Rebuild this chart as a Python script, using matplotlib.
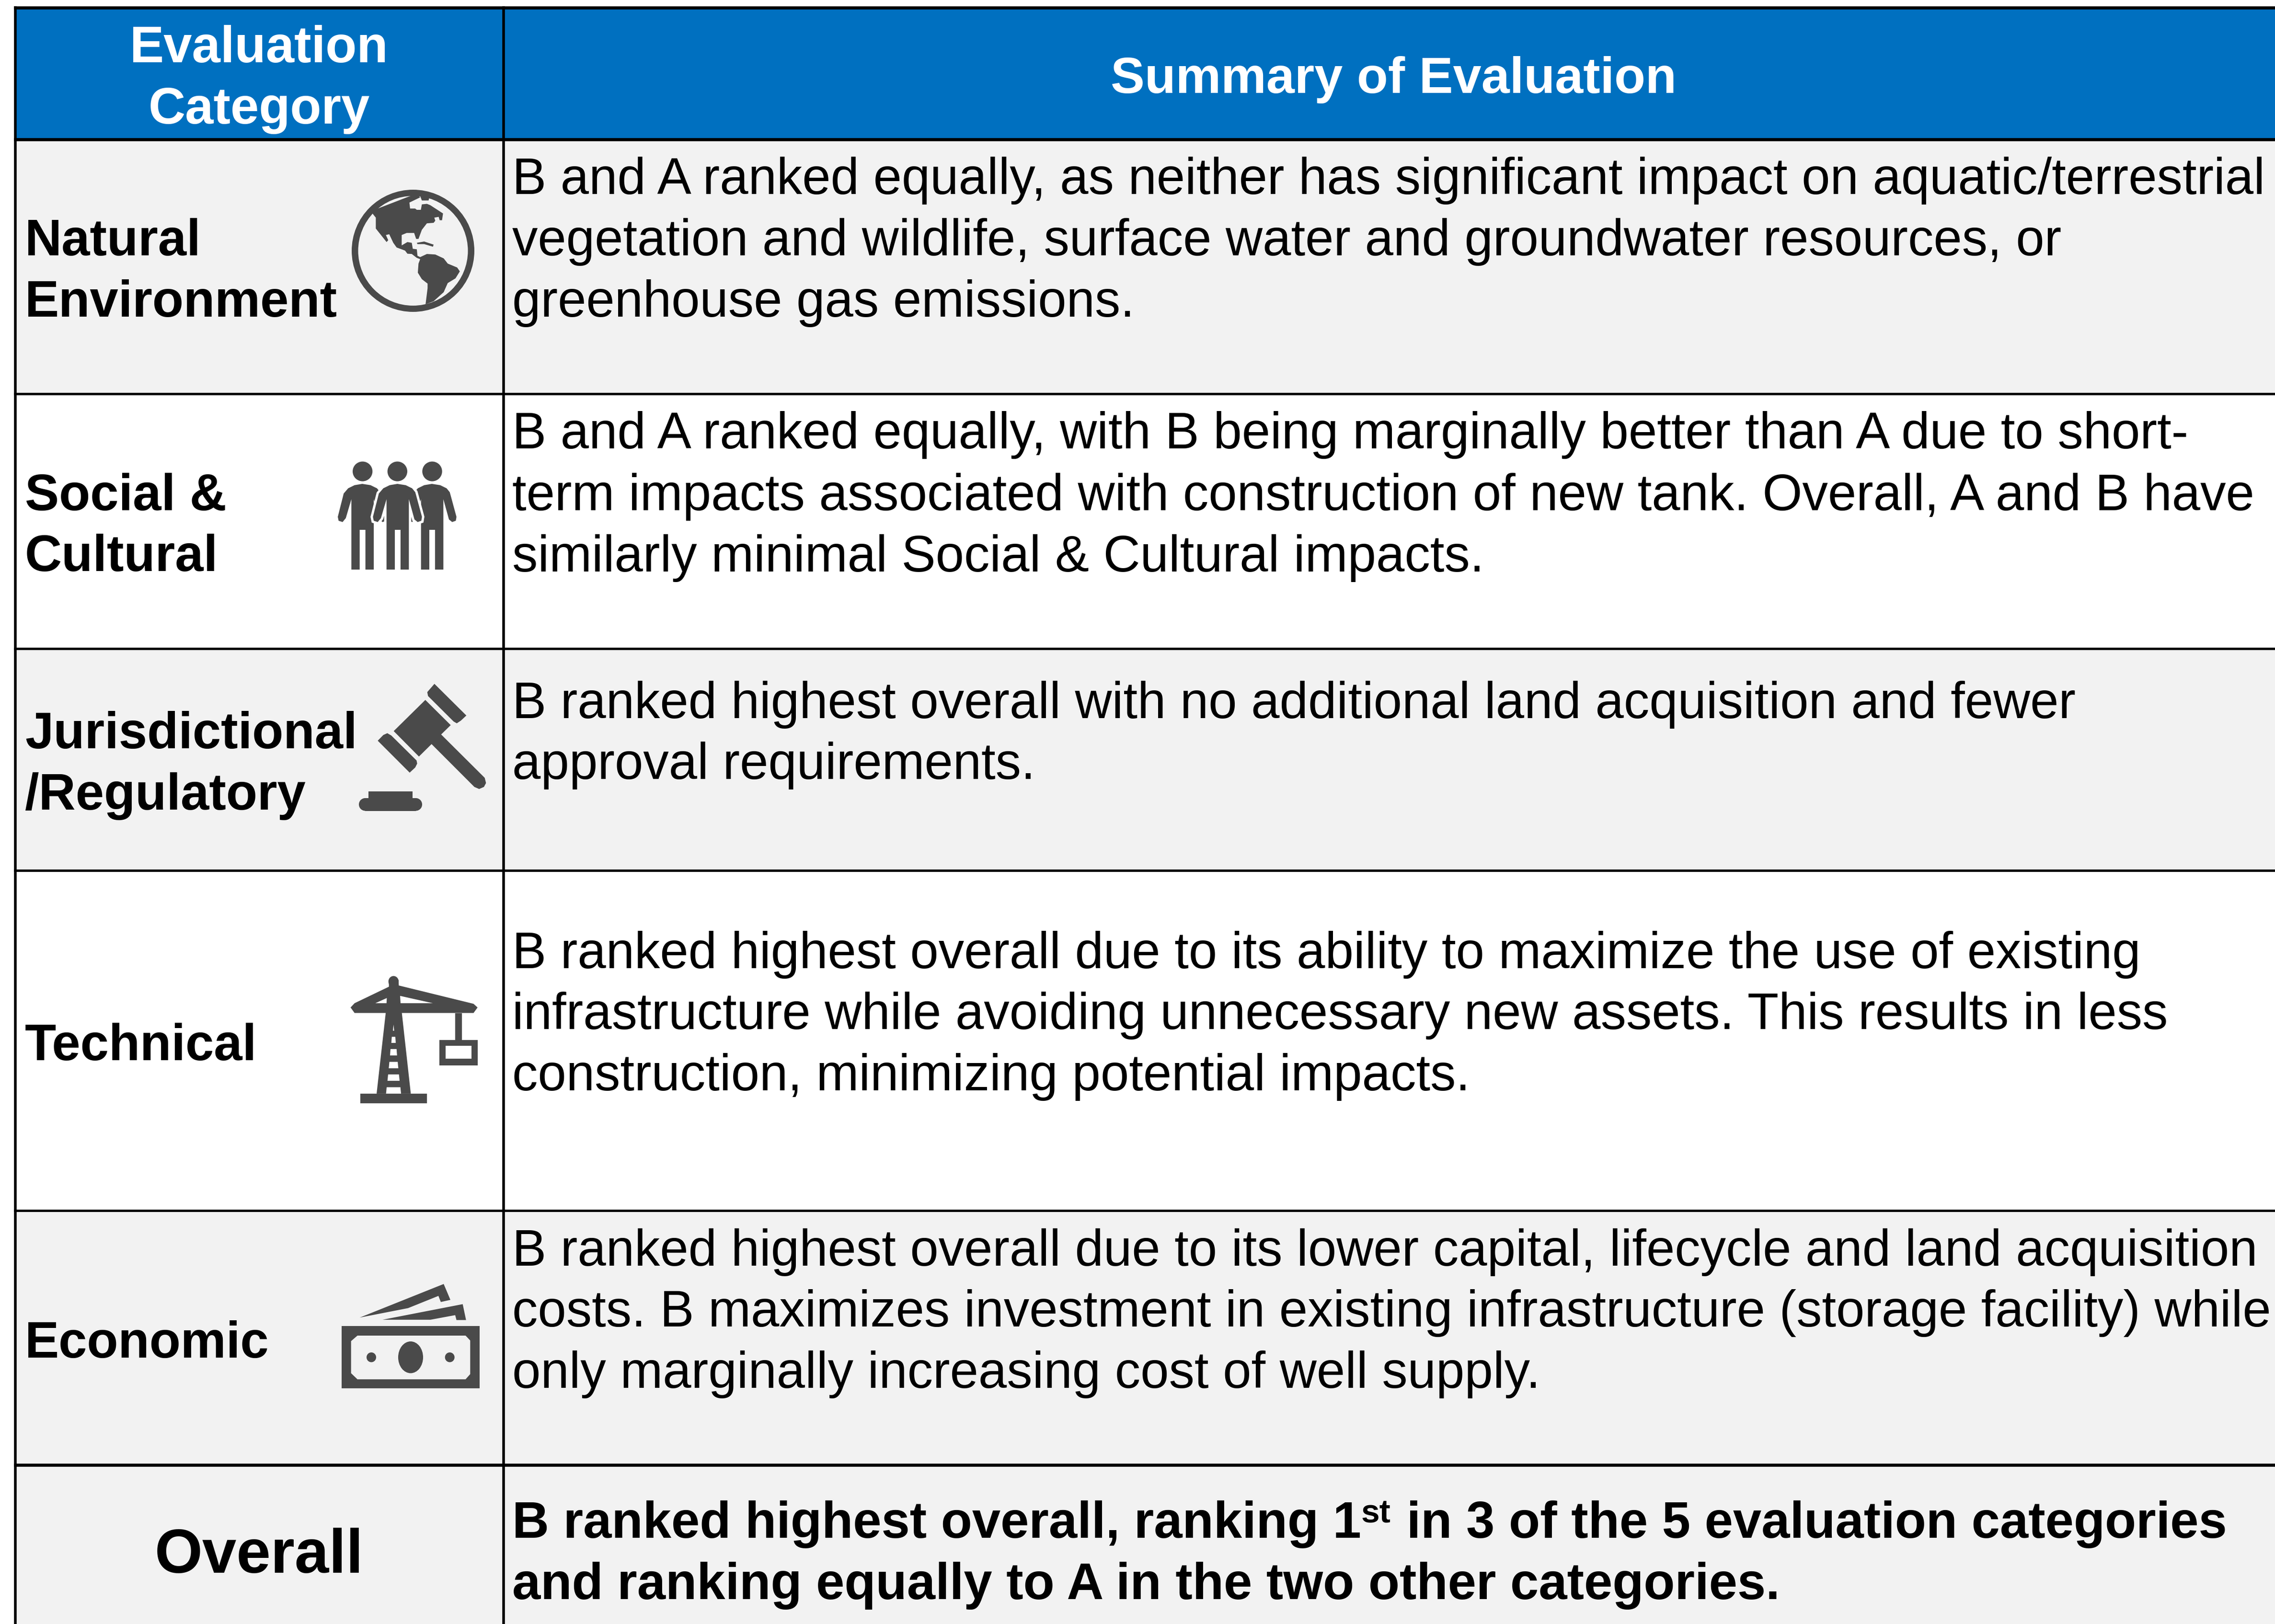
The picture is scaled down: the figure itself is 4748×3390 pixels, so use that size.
import matplotlib
matplotlib.use("Agg")
import matplotlib.pyplot as plt
from matplotlib.patches import Polygon, Ellipse, Rectangle

plt.rcParams["font.family"] = ["Liberation Sans", "DejaVu Sans"]

W, H = 4748, 3390
BLUE = "#0070C0"
GREY = "#F2F2F2"
ICON = "#4A4A4A"
PX = 72 / 100  # points per pixel at dpi=100
FS = 106.8 * PX
FS_BIG = 128.5 * PX

# --- table content -----------------------------------------------------------
headers = ["Evaluation\nCategory", "Summary of Evaluation"]
categories = [["Natural", "Environment"], ["Social &", "Cultural"],
              ["Jurisdictional", "/Regulatory"], ["Technical"], ["Economic"]]
summaries = [
    ["B and A ranked equally, as neither has significant impact on aquatic/terrestrial",
     "vegetation and wildlife, surface water and groundwater resources, or",
     "greenhouse gas emissions."],
    ["B and A ranked equally, with B being marginally better than A due to short-",
     "term impacts associated with construction of new tank. Overall, A and B have",
     "similarly minimal Social & Cultural impacts."],
    ["B ranked highest overall with no additional land acquisition and fewer",
     "approval requirements."],
    ["B ranked highest overall due to its ability to maximize the use of existing",
     "infrastructure while avoiding unnecessary new assets. This results in less",
     "construction, minimizing potential impacts."],
    ["B ranked highest overall due to its lower capital, lifecycle and land acquisition",
     "costs. B maximizes investment in existing infrastructure (storage facility) while",
     "only marginally increasing cost of well supply."],
]
overall_label = "Overall"
overall_parts = ["B ranked highest overall, ranking 1", "st", " in 3 of the 5 evaluation categories"]
overall_line2 = "and ranking equally to A in the two other categories."

# layout, in reference pixels
row_edges = [16, 291, 822, 1354, 1817, 2527, 3058, H]
row_fill = [BLUE, GREY, "white", GREY, "white", GREY, GREY]
col_left, col_mid = 32, 1051
label_x, body_x = 52, 1069
label_base = [[533, 661], [1065, 1192], [1562, 1690], [2213], [2834]]
body_base = [[405, 533, 661], [936, 1065, 1193], [1499, 1626],
             [2021, 2148, 2276], [2642, 2769, 2897]]

fig = plt.figure(figsize=(W / 100, H / 100), dpi=100)
ax = fig.add_axes([0, 0, 1, 1])
ax.set_xlim(0, W)
ax.set_ylim(H, 0)
ax.axis("off")

# --- cells and grid ----------------------------------------------------------
for i, c in enumerate(row_fill):
    ax.add_patch(Rectangle((col_left, row_edges[i]), W - col_left, row_edges[i + 1] - row_edges[i],
                           fc=c, ec="none", zorder=1))
for i, y in enumerate(row_edges[:-1]):
    lw = 6.5 if i in (0, 1, 6) else 5
    ax.plot([col_left - 3, W], [y, y], color="black", lw=lw * PX, solid_capstyle="butt", zorder=3)
for x in (col_left, col_mid):
    ax.plot([x, x], [row_edges[0] - 3, H], color="black", lw=5.5 * PX, solid_capstyle="butt", zorder=3)

# --- text --------------------------------------------------------------------
ax.text(541, 130, "Evaluation", color="white", fontsize=FS, fontweight="bold", ha="center", va="baseline", zorder=4)
ax.text(541, 258, "Category", color="white", fontsize=FS, fontweight="bold", ha="center", va="baseline", zorder=4)
ax.text(2908, 194, headers[1], color="white", fontsize=FS * 0.995, fontweight="bold", ha="center", va="baseline", zorder=4)

for lines, bases in zip(categories, label_base):
    for s, y in zip(lines, bases):
        ax.text(label_x, y, s, fontsize=FS, fontweight="bold", va="baseline", zorder=4)
for lines, bases in zip(summaries, body_base):
    for s, y in zip(lines, bases):
        ax.text(body_x, y, s, fontsize=FS, va="baseline", zorder=4)

ax.text(541, 3283, overall_label, fontsize=FS_BIG, fontweight="bold", ha="center", va="baseline", zorder=4)
rend = fig.canvas.get_renderer()
t0 = ax.text(body_x, 3210, overall_parts[0], fontsize=FS * 0.998, fontweight="bold", va="baseline", zorder=4)
x1 = body_x + t0.get_window_extent(rend).width
t1 = ax.text(x1, 3178, overall_parts[1], fontsize=FS * 0.65, fontweight="bold", va="baseline", zorder=4)
x2 = x1 + t1.get_window_extent(rend).width + 3
ax.text(x2, 3210, overall_parts[2], fontsize=FS * 0.998, fontweight="bold", va="baseline", zorder=4)
ax.text(body_x, 3338, overall_line2, fontsize=FS * 0.998, fontweight="bold", va="baseline", zorder=4)


# --- icons (outlines traced in zoom-crop coordinates) --------------------------
def crop(x0, y0, sx, sy):
    return lambda pts: [(x0 + a / sx, y0 + b / sy) for a, b in pts]


def poly(tf, pts, fc=ICON, **kw):
    ax.add_patch(Polygon(tf(pts), closed=True, fc=fc, ec=kw.pop("ec", "none"), zorder=kw.pop("zorder", 5), **kw))


def ell(tf, cx, cy, rx, ry, fc=ICON, zorder=5):
    (x, y), (x2, y2) = tf([(cx, cy), (cx + rx, cy + ry)])
    ax.add_patch(Ellipse((x, y), 2 * (x2 - x), 2 * (y2 - y), fc=fc, ec="none", zorder=zorder))


# globe
z1 = crop(0, 0, 1568 / 1100, 1568 / 850)
ax.add_patch(Ellipse((862, 523.5), 256, 255, fc=ICON, ec="none", zorder=5))
ax.add_patch(Ellipse((862, 523.5), 229, 229, fc=GREY, ec="none", zorder=5))
land = [(1108, 822), (1118, 838), (1118, 880), (1150, 932), (1155, 925), (1148, 905), (1158, 902), (1170, 935),
        (1180, 953), (1205, 965), (1212, 977), (1225, 978), (1240, 993), (1250, 998), (1245, 1015), (1243, 1050),
        (1255, 1075), (1272, 1092), (1272, 1110), (1266, 1172), (1290, 1160), (1320, 1125), (1332, 1090),
        (1355, 1072), (1368, 1045), (1360, 1030), (1332, 1015), (1320, 995), (1295, 980), (1270, 978), (1250, 990),
        (1242, 985), (1240, 960), (1228, 958), (1225, 935), (1212, 932), (1195, 945), (1195, 905), (1210, 897),
        (1232, 897), (1238, 920), (1245, 920), (1255, 885), (1270, 860), (1290, 858), (1295, 850), (1292, 838),
        (1305, 835), (1308, 848), (1315, 848), (1318, 822), (1280, 790), (1270, 785), (1255, 787), (1252, 808),
        (1240, 808), (1235, 803), (1220, 803), (1218, 780), (1250, 760), (1240, 745), (1110, 810)]
poly(z1, land)
poly(z1, [(1250, 755), (1255, 772), (1275, 772), (1278, 755)])
poly(z1, [(1240, 935), (1262, 930), (1290, 942), (1288, 950), (1262, 940), (1242, 940)])

# people
z2 = crop(600, 900, 3, 1568 / 850)
body = [(620, 262), (585, 335), (565, 350), (540, 345), (535, 330), (572, 240), (600, 220), (640, 208), (688, 203),
        (740, 208), (780, 220), (800, 235), (842, 330), (838, 345), (815, 350), (795, 340), (760, 262), (760, 533),
        (708, 533), (708, 380), (672, 380), (672, 533), (620, 533)]
for dx in (-220, 216):
    poly(z2, [(a + dx, b) for a, b in body])
poly(z2, body, fc="white", ec="white", lw=10 * PX, zorder=6)
poly(z2, body, zorder=7)
for cx in (470, 688, 906):
    ell(z2, cx, 155, 62, 38)

# gavel
poly(z2, [(665, 1155), (863, 1035), (1022, 1132), (962, 1168), (1235, 1335), (1243, 1355), (1230, 1370), (1200, 1378),
          (1170, 1370), (902, 1205), (823, 1253)])
poly(z2, [(920, 973), (1120, 1095), (1085, 1115), (1060, 1125), (1040, 1118), (880, 1020), (875, 1005)])
poly(z2, [(565, 1192), (600, 1170), (625, 1163), (650, 1172), (808, 1268), (812, 1280), (800, 1295), (765, 1315)])
poly(z2, [(507, 1388), (784, 1388), (784, 1420), (507, 1420)])
bx0, by0 = z2([(447, 1413)])[0]
bx1, by1 = z2([(843, 1462)])[0]
rad = (by1 - by0) / 2
ax.add_patch(Rectangle((bx0 + rad, by0), bx1 - bx0 - 2 * rad, by1 - by0, fc=ICON, ec="none", zorder=5))
ax.add_patch(Ellipse((bx0 + rad, by0 + rad), 2 * rad, 2 * rad, fc=ICON, ec="none", zorder=5))
ax.add_patch(Ellipse((bx1 - rad, by0 + rad), 2 * rad, 2 * rad, fc=ICON, ec="none", zorder=5))

# crane
z3 = crop(650, 1950, 3, 1.568)
poly(z3, [(245, 240), (270, 226), (485, 172), (485, 150), (514, 138), (545, 150), (547, 168), (1015, 228), (1040, 240),
          (1015, 258), (566, 258), (622, 522), (408, 522), (465, 258), (270, 258)])
ell(z3, 514, 155, 32, 18)
poly(z3, [(306, 522), (723, 522), (723, 553), (306, 553)])
poly(z3, [(901, 258), (941, 258), (941, 346), (901, 346)])
poly(z3, [(801, 346), (1041, 346), (1041, 429), (801, 429)])
poly(z3, [(841, 366), (1001, 366), (1001, 408), (841, 408)], fc="white", zorder=6)
poly(z3, [(400, 226), (472, 209), (470, 226)], fc="white", zorder=6)
poly(z3, [(555, 202), (760, 226), (558, 226)], fc="white", zorder=6)
poly(z3, [(514, 296), (518, 316), (510, 316)], fc="white", zorder=6)
rung_y = [(336, 356), (376, 397), (418, 439), (459, 480), (501, 522)]
rung_hw = [(11, 14), (19, 22), (26, 30), (34, 38), (43, 47)]
for (y0, y1), (h0, h1) in zip(rung_y, rung_hw):
    poly(z3, [(514 - h0, y0), (514 + h0, y0), (514 + h1, y1), (514 - h1, y1)], fc="white", zorder=6)

# money
poly(z3, [(189, 1283), (1053, 1283), (1053, 1487), (189, 1487)])
poly(z3, [(248, 1332), (288, 1314), (965, 1314), (994, 1330), (994, 1440), (965, 1457), (288, 1457), (248, 1437)],
     fc=GREY, zorder=6)
ell(z3, 621, 1385, 78, 52, zorder=7)
ell(z3, 375, 1385, 30, 16, zorder=7)
ell(z3, 866, 1385, 30, 16, zorder=7)
poly(z3, [(302, 1255), (828, 1145), (870, 1197), (810, 1204), (795, 1184), (605, 1224)])
poly(z3, [(445, 1262), (947, 1211), (968, 1263), (908, 1263), (900, 1247), (745, 1262)])

fig.savefig("out.png", dpi=100)
